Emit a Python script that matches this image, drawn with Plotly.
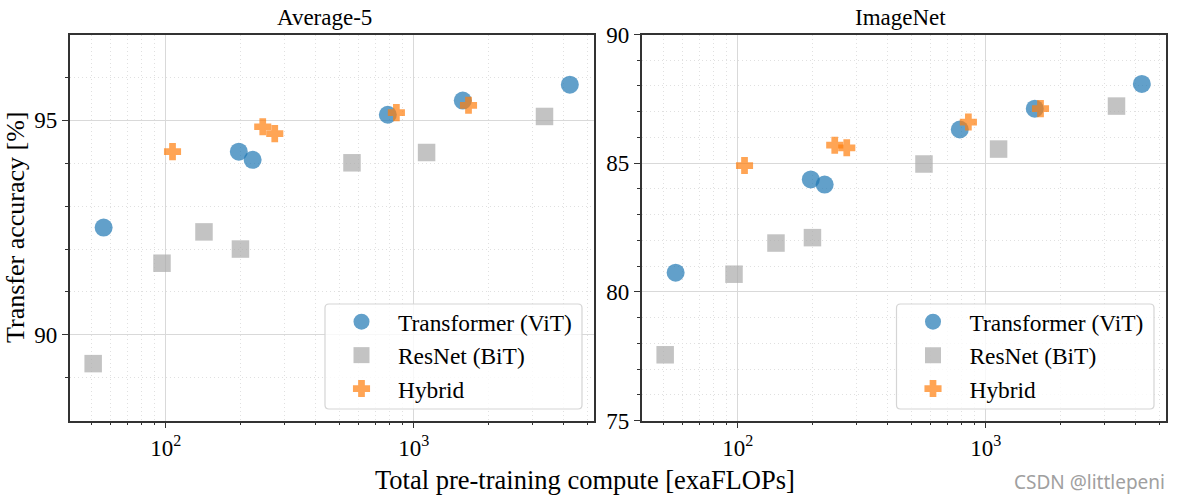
import plotly.graph_objects as go

W, H = 1177, 501
FONT = "Liberation Serif"

vit_x = [56.2, 197, 224, 785, 1574, 4250]
bit_x = [51, 96.6, 142.6, 200, 563, 1125, 3360]
hyb_x = [106.5, 246, 275, 850, 1660]

avg_vit = [92.5, 94.27, 94.08, 95.13, 95.46, 95.83]
avg_bit = [89.33, 91.67, 92.4, 92.0, 94.01, 94.25, 95.09]
avg_hyb = [94.27, 94.85, 94.69, 95.18, 95.35]

img_vit = [80.75, 84.37, 84.17, 86.31, 87.12, 88.08]
img_bit = [77.56, 80.69, 81.9, 82.11, 84.97, 85.55, 87.22]
img_hyb = [84.91, 85.7, 85.6, 86.6, 87.12]

titles = ["Average-5", "ImageNet"]
series_names = ["Transformer (ViT)", "ResNet (BiT)", "Hybrid"]
y_ticks_avg = [90, 95]
y_ticks_img = [75, 80, 85, 90]
y_minor_avg = [89, 91, 92, 93, 94, 96]
y_minor_img = [76, 77, 78, 79, 81, 82, 83, 84, 86, 87, 88, 89]
x_ticks = [100, 1000]
x_minor = [50, 60, 70, 80, 90, 200, 300, 400, 500, 600, 700, 800, 900, 2000, 3000, 4000, 5000]
x_tick_text = ["10<sup>2</sup>", "10<sup>3</sup>"]
x_label = "Total pre-training compute [exaFLOPs]"
y_label = "Transfer accuracy [%]"
watermark = "CSDN @littlepeni"

styles = [("circle", "#1f77b4", 18, 0), ("square", "#aaaaaa", 17.5, 0), ("cross", "#ff7f0e", 13, 1.5)]

L1, R1, L2, R2 = 69.7, 594.3, 641.7, 1166.3
T, B = 34.5, 420.7

fig = go.Figure()
panels = [("x", "y", "legend", [avg_vit, avg_bit, avg_hyb]),
          ("x2", "y2", "legend2", [img_vit, img_bit, img_hyb])]
xs = [vit_x, bit_x, hyb_x]
for xa, ya, leg, ysets in panels:
    for i, (yv, xv) in enumerate(zip(ysets, xs)):
        sym, col, size, lw = styles[i]
        fig.add_trace(go.Scatter(
            x=xv, y=yv, mode="markers", xaxis=xa, yaxis=ya,
            name=series_names[i], legend=leg, legendgroup=leg + str(i),
            marker=dict(symbol=sym, color=col, size=size, opacity=0.7,
                        line=dict(width=lw, color=col)),
            cliponaxis=False,
        ))

common = dict(
    ticks="outside", ticklen=6, tickwidth=1, tickcolor="#333333",
    tickfont=dict(family=FONT, size=23, color="black"),
    showgrid=True, gridcolor="#d9d9d9", gridwidth=1.3,
    showline=True, linecolor="#333333", linewidth=1.5, mirror=True,
    zeroline=False, automargin=False,
)

def minor(vals):
    return dict(tickmode="array", tickvals=vals, ticks="outside", ticklen=3, tickwidth=0.8,
                tickcolor="#333333", showgrid=True, gridcolor="#e0e0e0", gridwidth=0.8,
                griddash="1px,3px")

def xaxis(dom, anchor):
    return dict(type="log", domain=dom, range=[1.613, 3.727], anchor=anchor,
                tickmode="array", tickvals=x_ticks, ticktext=x_tick_text,
                minor=minor(x_minor), **common)

def yaxis(rng, ticks, mn, anchor):
    return dict(domain=[1 - B / H, 1 - T / H], range=rng, anchor=anchor,
                tickmode="array", tickvals=ticks, minor=minor(mn), **common)

def px(x): return x / W
def py(y): return 1 - y / H

def legend(x0):
    return dict(x=px(x0), y=py(300), xanchor="left", yanchor="top",
                bgcolor="rgba(0,0,0,0)", borderwidth=0,
                font=dict(family=FONT, size=23.4, color="black"),
                itemwidth=63, itemsizing="trace", tracegroupgap=0,
                traceorder="grouped", valign="middle")

fig.update_layout(
    template=None,
    width=W, height=H, autosize=False,
    margin=dict(l=0, r=0, t=0, b=0),
    paper_bgcolor="white", plot_bgcolor="white", showlegend=True,
    font=dict(family=FONT, color="black"),
    xaxis=xaxis([L1 / W, R1 / W], "y"),
    yaxis=yaxis([88, 97], y_ticks_avg, y_minor_avg, "x"),
    xaxis2=xaxis([L2 / W, R2 / W], "y2"),
    yaxis2=yaxis([75, 90], y_ticks_img, y_minor_img, "x2"),
    legend=legend(325),
    legend2=legend(896.5),
)

def text(x, y, s, size, color="black", family=FONT, angle=0):
    fig.add_annotation(x=px(x), y=py(y), xref="paper", yref="paper", text=s, showarrow=False,
                       font=dict(family=family, size=size, color=color),
                       xanchor="center", yanchor="middle", textangle=angle)

text(324.5, 17, titles[0], 23)
text(900, 17, titles[1], 23)
text(585, 480, x_label, 26.5)
text(15, 228, y_label, 26, angle=-90)
text(1089, 482, watermark, 19, color="#a0a0a0", family="Noto Sans")

# rounded legend frames
r = 4
for x0, x1 in [(325, 582), (896.5, 1154)]:
    y0, y1 = 304, 409
    a, b, c, d = px(x0), px(x1), py(y0), py(y1)
    rx, ry = r / W, r / H
    path = (f"M {a+rx} {c} L {b-rx} {c} Q {b} {c} {b} {c-ry} L {b} {d+ry} Q {b} {d} {b-rx} {d} "
            f"L {a+rx} {d} Q {a} {d} {a} {d+ry} L {a} {c-ry} Q {a} {c} {a+rx} {c} Z")
    fig.add_shape(type="path", xref="paper", yref="paper", path=path,
                  fillcolor="rgba(255,255,255,0.8)", line=dict(color="#d5d5d5", width=1.2),
                  layer="above")

fig.write_html("out.html", config={"displayModeBar": False},
               post_script="document.body.style.margin='0';document.documentElement.style.overflow='hidden';")
